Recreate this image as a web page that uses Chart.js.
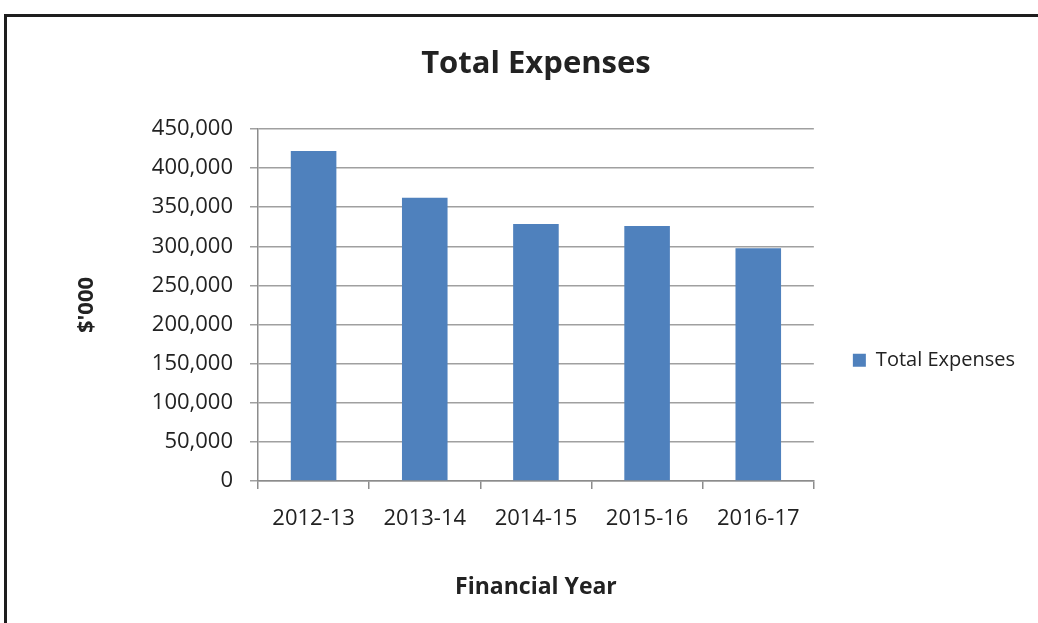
<!DOCTYPE html>
<html>
<head>
<meta charset="utf-8">
<script src="https://cdn.jsdelivr.net/npm/chart.js@4.4.0/dist/chart.umd.min.js"></script>
<style>
  html, body { margin: 0; padding: 0; background: #fff; }
  #wrap { width: 1038px; height: 623px; position: relative; }
</style>
</head>
<body>
<div id="wrap"><canvas id="expChart"></canvas></div>
<script>
const years = ['2012-13', '2013-14', '2014-15', '2015-16', '2016-17'];
const totalExpenses = [422000, 362000, 328500, 326000, 297500];
const yTicks = [0, 50000, 100000, 150000, 200000, 250000, 300000, 350000, 400000, 450000];

const FONT = '"Open Sans", "DejaVu Sans", sans-serif';
const TEXT = '#222222';

// frame around the chart (top and left edges only show)
const framePlugin = {
  id: 'frame',
  afterDraw(chart) {
    const ctx = chart.ctx;
    ctx.save();
    ctx.strokeStyle = '#1e1e1e';
    ctx.lineWidth = 3;
    ctx.beginPath();
    ctx.moveTo(5.5, chart.height);
    ctx.lineTo(5.5, 15.5);
    ctx.lineTo(chart.width, 15.5);
    ctx.stroke();
    ctx.restore();
  }
};

new Chart(document.getElementById('expChart'), {
  type: 'bar',
  data: {
    labels: years,
    datasets: [{
      label: 'Total Expenses',
      data: totalExpenses,
      backgroundColor: '#4f81bd',
      borderWidth: 0,
      categoryPercentage: 1,
      barPercentage: 0.41
    }]
  },
  options: {
    responsive: true,
    maintainAspectRatio: false,
    animation: false,
    layout: { padding: { left: 74, right: 13, top: 0, bottom: 0 } },
    plugins: {
      title: {
        display: true,
        fullSize: false,
        text: 'Total Expenses',
        color: TEXT,
        font: { family: FONT, size: 31, weight: 'bold' },
        padding: { top: 46, bottom: 45.8 }
      },
      legend: {
        position: 'right',
        labels: {
          color: TEXT,
          font: { family: FONT, size: 20 },
          boxWidth: 13,
          boxHeight: 13,
          padding: 39
        },
        title: { display: true, text: '', padding: { top: 0, bottom: 83 } }
      },
      tooltip: { enabled: false }
    },
    scales: {
      x: {
        grid: { drawOnChartArea: false, color: '#8c8c8c', tickLength: 8, lineWidth: 1.5 },
        border: { color: '#8c8c8c', width: 1.5 },
        ticks: { color: TEXT, font: { family: FONT, size: 22 }, padding: 17 },
        title: {
          display: true,
          text: 'Financial Year',
          color: TEXT,
          font: { family: FONT, size: 23, weight: 'bold' },
          padding: { top: 0, bottom: 22 }
        },
        afterFit(scale) { scale.height = 142; }
      },
      y: {
        min: 0,
        max: 450000,
        afterBuildTicks(scale) { scale.ticks = yTicks.map(v => ({ value: v })); },
        grid: { color: '#a0a0a0', tickLength: 8, lineWidth: 1.5 },
        border: { color: '#8c8c8c', width: 1.5 },
        ticks: {
          color: TEXT,
          font: { family: FONT, size: 22 },
          padding: 17,
          callback: v => v.toLocaleString('en-US')
        },
        title: {
          display: true,
          text: "$'000",
          color: TEXT,
          font: { family: FONT, size: 22, weight: 'bold' },
          padding: { top: 0, bottom: 0 }
        },
        afterFit(scale) { scale.width = 184; }
      }
    }
  },
  plugins: [framePlugin]
});
</script>
</body>
</html>
